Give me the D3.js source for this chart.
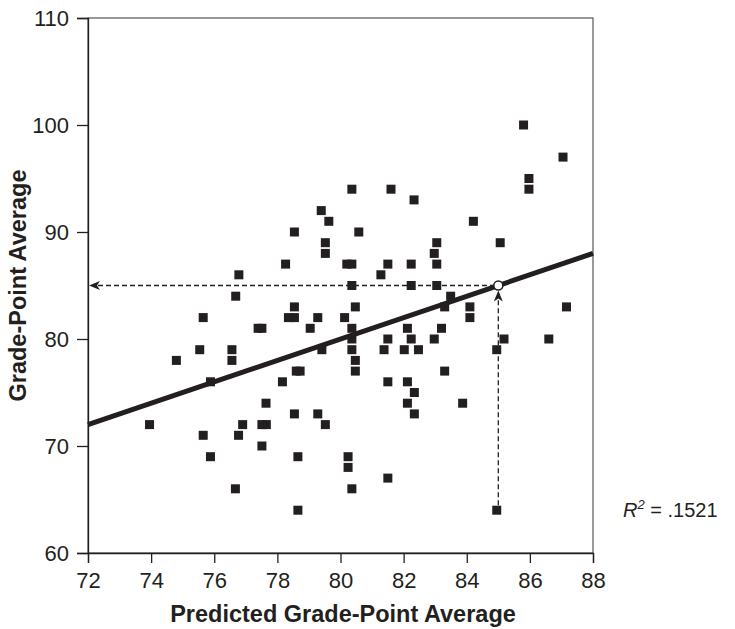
<!DOCTYPE html>
<html>
<head>
<meta charset="utf-8">
<script src="https://cdn.jsdelivr.net/npm/d3@7"></script>
<style>
  body { margin: 0; background: #fff; }
  text { font-family: "Liberation Sans", Arial, Helvetica, sans-serif; fill: #231f20; }
</style>
</head>
<body>
<div id="chart"></div>
<script>
// predicted GPA (x) and actual GPA (y) for each student
const predicted = [73.95, 74.8, 75.54, 75.65, 75.65, 75.88, 75.88, 76.56, 76.56, 76.68,
  76.78, 76.67, 76.77, 76.9, 77.39, 77.51, 77.51, 77.65, 77.51, 77.64,
  78.16, 78.26, 78.35, 78.54, 78.54, 78.54, 78.54, 78.6, 78.72, 78.65,
  78.65, 79.04, 79.28, 79.28, 79.39, 79.41, 79.52, 79.52, 79.52, 79.63,
  80.13, 80.2, 80.36, 80.36, 80.36, 80.36, 80.36, 80.36, 80.47, 80.47,
  80.47, 80.24, 80.24, 80.36, 80.58, 81.28, 81.38, 81.5, 81.5, 81.5,
  81.5, 81.6, 82.02, 82.12, 82.12, 82.12, 82.24, 82.24, 82.24, 82.33,
  82.34, 82.34, 82.47, 82.97, 82.97, 83.05, 83.05, 83.05, 83.2, 83.3,
  83.3, 83.49, 83.87, 84.1, 84.1, 84.21, 84.95, 84.95, 85.06, 85.18,
  85.8, 85.97, 85.97, 86.6, 87.05, 87.16];
const gpa = [72, 78, 79, 82, 71, 76, 69, 79, 78, 84,
  86, 66, 71, 72, 81, 81, 72, 72, 70, 74,
  76, 87, 82, 82, 83, 90, 73, 77, 77, 69,
  64, 81, 82, 73, 92, 79, 89, 88, 72, 91,
  82, 87, 87, 94, 85, 81, 80, 79, 83, 78,
  77, 69, 68, 66, 90, 86, 79, 87, 80, 76,
  67, 94, 79, 81, 76, 74, 87, 85, 80, 93,
  75, 73, 79, 88, 80, 89, 87, 85, 81, 83,
  77, 84, 74, 83, 82, 91, 79, 64, 89, 80,
  100, 95, 94, 80, 97, 83];

const xTicks = [72, 74, 76, 78, 80, 82, 84, 86, 88];
const yTicks = [60, 70, 80, 90, 100, 110];
const fitX = [72, 88];
const fitY = [72, 88];
const example = [85, 85];   // predicted 85 -> GPA 85
const exampleFrom = 64;     // the student the arrow starts from
const rSquared = ".1521";

const W = 735, H = 629;
const margin = {top: 18, right: 142, bottom: 76, left: 88};
const width = W - margin.left - margin.right;
const height = H - margin.top - margin.bottom;
const ink = "#231f20";

const x = d3.scaleLinear().domain([72, 88]).range([0, width]);
const y = d3.scaleLinear().domain([60, 110]).range([height, 0]);

const svg = d3.select("#chart").append("svg")
  .attr("width", W).attr("height", H);
const g = svg.append("g")
  .attr("transform", `translate(${margin.left}, ${margin.top})`);

// frame
g.append("rect")
  .attr("width", width).attr("height", height)
  .attr("fill", "none").attr("stroke", "#555").attr("stroke-width", 1.2);

const xAxis = g.append("g")
  .attr("transform", `translate(0, ${height})`)
  .call(d3.axisBottom(x).tickValues(xTicks).tickSize(10).tickPadding(9));
const yAxis = g.append("g")
  .call(d3.axisLeft(y).tickValues(yTicks).tickSize(11).tickPadding(8));
[xAxis, yAxis].forEach(a => {
  a.select(".domain").attr("stroke", ink).attr("stroke-width", 1.3);
  a.selectAll(".tick line").attr("stroke", ink).attr("stroke-width", 1.3);
  a.selectAll(".tick text").style("font-size", "22px").attr("fill", ink);
});

// dashed guide lines
const cx = x(example[0]), cy = y(example[1]);
g.append("line")
  .attr("x1", x(72) + 10).attr("x2", cx - 5)
  .attr("y1", cy).attr("y2", cy)
  .attr("stroke", ink).attr("stroke-width", 1.3).attr("stroke-dasharray", "5,3");
g.append("line")
  .attr("x1", cx).attr("x2", cx)
  .attr("y1", y(exampleFrom) - 5).attr("y2", cy + 14)
  .attr("stroke", ink).attr("stroke-width", 1.3).attr("stroke-dasharray", "5,3");

// arrowheads
const arrow = "M0,0 L11,-4.5 L8,0 L11,4.5 Z";
g.append("path").attr("d", arrow).attr("fill", ink)
  .attr("transform", `translate(${x(72) + 1}, ${cy})`);
g.append("path").attr("d", arrow).attr("fill", ink)
  .attr("transform", `translate(${cx}, ${cy + 5}) rotate(90)`);

// points
g.selectAll("rect.pt")
  .data(predicted.map((p, i) => [p, gpa[i]]))
  .join("rect")
  .attr("class", "pt")
  .attr("x", d => x(d[0]) - 4.5)
  .attr("y", d => y(d[1]) - 4.5)
  .attr("width", 9).attr("height", 9)
  .attr("fill", ink);

// regression line
g.append("line")
  .attr("x1", x(fitX[0])).attr("y1", y(fitY[0]))
  .attr("x2", x(fitX[1])).attr("y2", y(fitY[1]))
  .attr("stroke", ink).attr("stroke-width", 5);

g.append("circle")
  .attr("cx", cx).attr("cy", cy).attr("r", 4.5)
  .attr("fill", "#fff").attr("stroke", ink).attr("stroke-width", 1.5);

// titles
svg.append("text")
  .attr("x", 343).attr("y", 622)
  .attr("text-anchor", "middle")
  .style("font-size", "23.5px").style("font-weight", "bold")
  .text("Predicted Grade-Point Average");
svg.append("text")
  .attr("transform", `translate(26, ${margin.top + height / 2}) rotate(-90)`)
  .attr("text-anchor", "middle")
  .style("font-size", "23.5px").style("font-weight", "bold")
  .text("Grade-Point Average");

const r2 = svg.append("text")
  .attr("x", 623).attr("y", 517)
  .style("font-size", "20px");
r2.append("tspan").style("font-style", "italic").text("R");
r2.append("tspan").style("font-style", "italic").style("font-size", "13px")
  .attr("dy", -8).text("2");
r2.append("tspan").attr("dy", 8).text(` = ${rSquared}`);
</script>
</body>
</html>
